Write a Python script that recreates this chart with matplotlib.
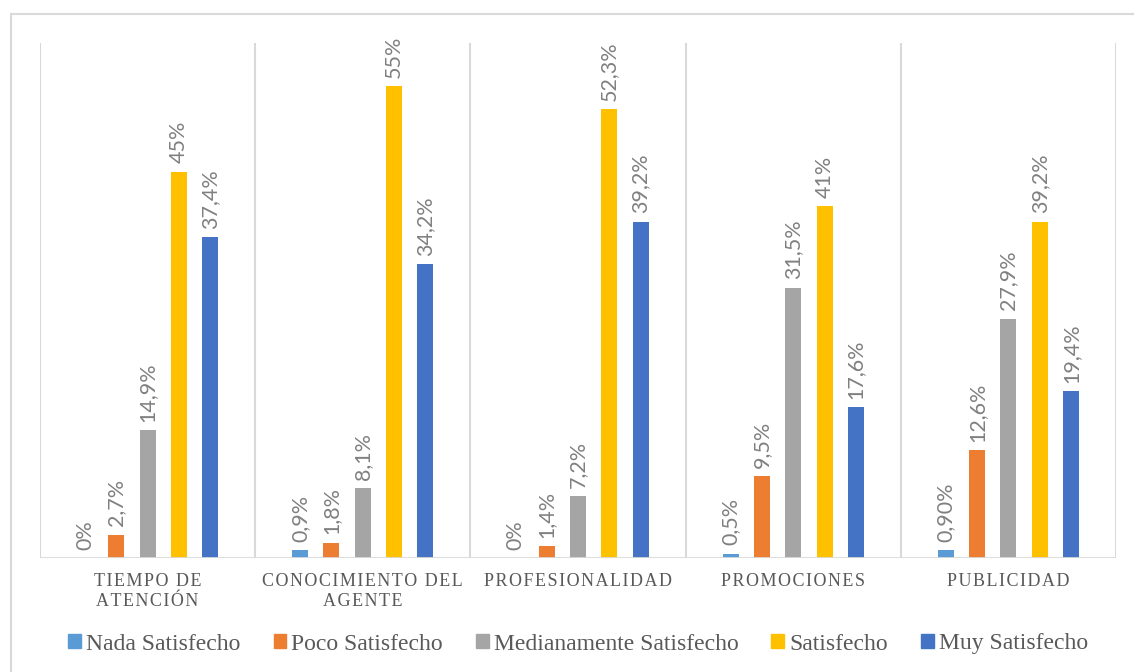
import matplotlib.pyplot as plt
from matplotlib.patches import Patch, Rectangle

categories = ["TIEMPO DE\nATENCIÓN", "CONOCIMIENTO DEL\nAGENTE", "PROFESIONALIDAD",
              "PROMOCIONES", "PUBLICIDAD"]
series = ["Nada Satisfecho", "Poco Satisfecho", "Medianamente Satisfecho",
          "Satisfecho", "Muy Satisfecho"]

nada = [0, 0.9, 0, 0.5, 0.9]
poco = [2.7, 1.8, 1.4, 9.5, 12.6]
medianamente = [14.9, 8.1, 7.2, 31.5, 27.9]
satisfecho = [45, 55, 52.3, 41, 39.2]
muy = [37.4, 34.2, 39.2, 17.6, 19.4]

nada_labels = ["0%", "0,9%", "0%", "0,5%", "0,90%"]
poco_labels = ["2,7%", "1,8%", "1,4%", "9,5%", "12,6%"]
medianamente_labels = ["14,9%", "8,1%", "7,2%", "31,5%", "27,9%"]
satisfecho_labels = ["45%", "55%", "52,3%", "41%", "39,2%"]
muy_labels = ["37,4%", "34,2%", "39,2%", "17,6%", "19,4%"]

colors = ["#5B9BD5", "#ED7D31", "#A5A5A5", "#FFC000", "#4472C4"]
grid_color = "#D9D9D9"
text_color = "#595959"
label_color = "#808080"


def spaced(text):
    # wide letter tracking for the category names
    return "\n".join("\u200a".join(line) for line in text.split("\n"))


fig = plt.figure(figsize=(11.34, 6.72), dpi=100)
ax = fig.add_axes([40 / 1134, 1 - 558 / 672, 1076 / 1134, 515 / 672])

values = [nada, poco, medianamente, satisfecho, muy]
labels = [nada_labels, poco_labels, medianamente_labels, satisfecho_labels, muy_labels]
step = 0.1456
width = 0.0744

for j in range(len(series)):
    xs = [i + (j - 2) * step for i in range(len(categories))]
    bars = ax.bar(xs, values[j], width=width, color=colors[j], zorder=3)
    for bar, lab in zip(bars, labels[j]):
        ax.annotate(lab, (bar.get_x() + bar.get_width() / 2, bar.get_height()),
                    xytext=(0, 6), textcoords="offset points", rotation=90,
                    ha="center", va="bottom", fontsize=15.5, family="Lato",
                    color=label_color)

ax.set_xlim(-0.5, len(categories) - 0.5)
ax.set_ylim(0, 60)

# category separators
for b in range(len(categories) + 1):
    ax.axvline(b - 0.5, color=grid_color, lw=1.5, zorder=1)
ax.axhline(0, color=grid_color, lw=2, zorder=4)

for s in ax.spines.values():
    s.set_visible(False)
ax.set_yticks([])
ax.set_xticks([])

for i, cat in enumerate(categories):
    ax.text(i, -1.7, spaced(cat), ha="center", va="top", fontsize=13,
            family=["Liberation Serif", "DejaVu Serif"], color=text_color,
            linespacing=1.3)

handles = [Patch(color=c) for c in colors]
fig.legend(handles, series, loc="center", bbox_to_anchor=(578 / 1134, 1 - 644 / 672),
           ncol=5, frameon=False, handlelength=0.55, handleheight=0.55,
           handletextpad=0.2, columnspacing=1.4,
           prop={"family": "Liberation Serif", "size": 17}, labelcolor=text_color)

fig.add_artist(Rectangle((11 / 1134, -0.1), 1.2, 1.1 - 14 / 672,
                         transform=fig.transFigure, fill=False,
                         edgecolor=grid_color, lw=1.5))

fig.savefig("out.png", dpi=100)
